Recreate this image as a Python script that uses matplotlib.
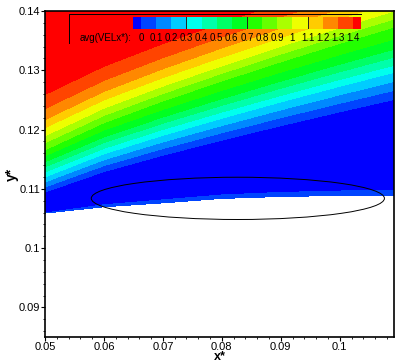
import numpy as np
import matplotlib
matplotlib.use('Agg')
import matplotlib.pyplot as plt
from matplotlib.colors import ListedColormap, LinearSegmentedColormap
from matplotlib.patches import Ellipse
from matplotlib.lines import Line2D
from matplotlib.ticker import FixedLocator, MultipleLocator

plt.rcParams['font.family'] = ['Liberation Sans', 'DejaVu Sans']

x_st = [0.05, 0.06, 0.07, 0.08, 0.09, 0.10, 0.1092]
# lower edge of the field (white below) and top of the thin near-wall strip
wall_y = [0.1059, 0.10697, 0.10763, 0.10838, 0.10871, 0.10887, 0.10895]
strip_y = [0.10592, 0.10731, 0.10814, 0.10897, 0.10939, 0.10963, 0.10980]

levels = [0.0, 0.1, 0.2, 0.3, 0.4, 0.5, 0.6, 0.7, 0.8, 0.9, 1.0, 1.1, 1.2, 1.3, 1.4]
# y where avg(VELx*) reaches each level, one row per level, one column per station
level_y = [
    [0.10946, 0.11291, 0.11567, 0.11822, 0.12065, 0.12299, 0.12507],
    [0.11031, 0.11391, 0.11679, 0.11945, 0.12199, 0.12443, 0.12660],
    [0.11116, 0.11491, 0.11791, 0.12067, 0.12332, 0.12586, 0.12812],
    [0.11201, 0.11591, 0.11903, 0.12191, 0.12466, 0.12730, 0.12965],
    [0.11286, 0.11683, 0.12002, 0.12295, 0.12575, 0.12845, 0.13084],
    [0.11371, 0.11780, 0.12107, 0.12408, 0.12697, 0.12974, 0.13220],
    [0.11455, 0.11875, 0.12211, 0.12521, 0.12817, 0.13102, 0.13355],
    [0.11557, 0.11992, 0.12340, 0.12661, 0.12968, 0.13263, 0.13525],
    [0.11659, 0.12116, 0.12483, 0.12820, 0.13143, 0.13454, 0.13729],
    [0.11777, 0.12238, 0.12608, 0.12948, 0.13273, 0.13586, 0.13864],
    [0.11896, 0.12361, 0.12733, 0.13076, 0.13405, 0.13720, 0.14000],
    [0.12032, 0.12501, 0.12876, 0.13222, 0.13553, 0.13871, 0.14153],
    [0.12168, 0.12644, 0.13025, 0.13376, 0.13712, 0.14036, 0.14322],
    [0.12354, 0.12830, 0.13212, 0.13563, 0.13899, 0.14222, 0.14509],
    [0.12592, 0.13068, 0.13450, 0.13801, 0.14137, 0.14460, 0.14747],
]

xticks = [0.05, 0.06, 0.07, 0.08, 0.09, 0.1]
yticks = [0.09, 0.1, 0.11, 0.12, 0.13, 0.14]

# build the curvilinear grid: wall, strip, negative core, the levels, a cap on top
core_y = (np.array(strip_y) + np.array(level_y[0])) / 2
top_y = [0.16] * len(x_st)
Y = np.vstack([wall_y, strip_y, core_y, level_y, top_y])
zrow = [0.05, 0.0, -0.05] + levels + [1.5]
Z = np.array(zrow)[:, None] * np.ones(len(x_st))
X = np.array(x_st)[None, :] * np.ones(len(zrow))[:, None]

rainbow = LinearSegmentedColormap.from_list('smallrainbow', ['#0000ff', '#00ffff', '#00ff00', '#ffff00', '#ff0000'])
cols = rainbow(np.linspace(0, 1, 16))
cmap = ListedColormap(cols[1:15])
cmap.set_under(cols[0])
cmap.set_over(cols[15])

fig = plt.figure(figsize=(4.07, 3.62), dpi=100)
ax = fig.add_axes([45 / 407, 25 / 362, 349 / 407, 326 / 362])

cs = ax.contourf(X, Y, Z, levels=levels, cmap=cmap, extend='both', antialiased=False)

ax.add_patch(Ellipse((0.08271, 0.10839), 0.04973, 0.00713, fill=False, edgecolor='black', lw=0.7))

ax.set_xlim(0.05, 0.1092)
ax.set_ylim(0.085, 0.14)
ax.xaxis.set_major_locator(FixedLocator(xticks))
ax.yaxis.set_major_locator(FixedLocator(yticks))
ax.set_xticklabels([f'{v:g}' for v in xticks])
ax.set_yticklabels([f'{v:g}' for v in yticks])
ax.xaxis.set_minor_locator(MultipleLocator(0.002))
ax.yaxis.set_minor_locator(MultipleLocator(0.002))
ax.tick_params(which='major', direction='out', length=3, width=0.8, labelsize=8, pad=0.5)
ax.tick_params(which='minor', direction='out', length=1.5, width=0.6)
for sp in ax.spines.values():
    sp.set_linewidth(1.2)
ax.set_xlabel('x*', fontsize=9, fontweight='bold', va='top')
ax.xaxis.set_label_coords(0.5, -0.044)
ax.set_ylabel('y*', fontsize=10, fontweight='bold', labelpad=0)

# legend: horizontal colour bar inside the plot, Tecplot style
cax = fig.add_axes([133 / 407, 1 - 29.3 / 362, 228 / 407, 12.6 / 362])
cb = fig.colorbar(cs, cax=cax, orientation='horizontal', extend='both',
                  extendrect=True, extendfrac=0.038, ticks=levels)
cb.outline.set_visible(False)
cb.set_ticklabels([f'{v:g}' for v in levels])
cax.tick_params(length=0, labelsize=7, pad=3)
for v in [0.3, 0.7, 1.1]:
    cax.axvline(v, color='#222222', lw=0.7)

fig.add_artist(Line2D([69 / 407, 69 / 407, 361 / 407], [1 - 43 / 362, 1 - 14 / 362, 1 - 14 / 362],
                      transform=fig.transFigure, color='black', lw=0.7))
fig.text(80 / 407, 1 - 38 / 362, 'avg(VELx*):', fontsize=7, ha='left', va='center')

fig.savefig('out.png', dpi=100)
